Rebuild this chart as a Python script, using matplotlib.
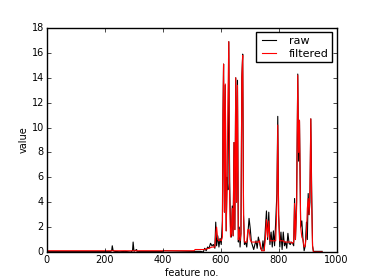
import matplotlib
matplotlib.use("Agg")
import matplotlib.pyplot as plt

# raw signal
raw_x = [0, 220, 224, 226, 229, 235, 250, 270, 290, 296, 298, 301, 310, 312, 320,
         400, 402, 500, 530, 540, 545, 550, 555, 560, 565, 570, 575, 580, 583, 586,
         590, 594, 598, 602, 606, 608, 610, 613, 616, 619, 622, 625, 628, 631, 634,
         637, 640, 643, 646, 649, 652, 655, 658, 661, 664, 667, 670, 673, 676, 679,
         682, 686, 690, 694, 698, 702, 706, 710, 714, 718, 722, 726, 730, 734, 738,
         742, 746, 750, 754, 758, 762, 766, 770, 774, 778, 782, 786, 790, 794, 797,
         800, 804, 808, 812, 816, 820, 824, 828, 832, 836, 840, 844, 848, 852, 855,
         858, 862, 866, 869, 872, 876, 880, 884, 888, 892, 896, 899, 902, 905, 908,
         911, 914, 917, 920, 925, 950]
raw_y = [0.05, 0.05, 0.1, 0.5, 0.1, 0.05, 0.02, 0.05, 0.0, 0.1, 0.8, 0.05, 0.2, 0.0, 0.05,
         0.05, 0.1, 0.05, 0.05, 0.0, 0.3, 0.1, 0.4, 0.3, 0.7, 0.5, 0.6, 0.3, 2.4, 0.5,
         1.3, 0.4, 1.1, 0.6, 2.5, 11.0, 15.1, 3.2, 13.4, 1.7, 6.0, 5.0, 16.9, 5.7, 2.0,
         1.2, 3.7, 1.3, 8.8, 1.8, 14.0, 4.0, 13.8, 0.8, 2.0, 0.4, 1.5, 14.0, 15.9, 3.0,
         0.6, 0.8, 0.4, 1.5, 2.7, 1.9, 0.8, 0.5, 0.2, 0.6, 0.9, 0.3, 1.2, 0.8, 0.3,
         0.1, 0.9, 0.1, 1.8, 3.3, 1.0, 3.2, 0.6, 1.6, 0.4, 1.7, 0.5, 2.5, 4.7, 10.9,
         3.0, 0.4, 1.6, 0.2, 1.6, 0.5, 0.8, 0.3, 1.5, 0.7, 0.6, 0.8, 0.7, 0.5, 4.3,
         1.0, 4.0, 14.3, 7.3, 10.5, 2.0, 2.5, 1.0, 0.1, 0.5, 2.4, 1.0, 4.7, 3.0, 4.0,
         10.7, 5.0, 0.5, 0.05, 0.05, 0.05]

# filtered signal
filt_x = [0, 508, 512, 545, 550, 560, 570, 575, 580, 583, 586, 590, 594, 598, 602,
          606, 608, 610, 613, 616, 619, 622, 625, 628, 631, 634, 637, 640, 643, 646,
          649, 652, 655, 658, 661, 664, 667, 670, 673, 676, 679, 682, 686, 690, 694,
          698, 702, 706, 710, 730, 734, 738, 742, 750, 754, 758, 762, 766, 770, 790,
          794, 797, 800, 804, 808, 816, 820, 840, 848, 852, 855, 858, 862, 866, 869,
          872, 876, 880, 884, 888, 892, 896, 899, 902, 905, 908, 911, 914, 917, 920, 950]
filt_y = [0.1, 0.1, 0.2, 0.2, 0.25, 0.3, 0.4, 0.4, 0.4, 1.5, 2.0, 1.0, 0.9, 1.0, 0.9,
          1.2, 11.0, 15.1, 3.2, 13.5, 1.7, 5.0, 12.0, 16.9, 4.5, 1.2, 1.5, 3.5, 1.3, 8.8,
          1.8, 14.0, 4.0, 13.4, 1.0, 1.8, 0.9, 1.5, 14.0, 15.8, 3.0, 0.8, 0.8, 0.8, 1.8,
          1.8, 1.0, 0.8, 0.8, 0.8, 0.9, 0.4, 0.1, 0.1, 1.0, 2.6, 1.2, 2.5, 0.9, 0.9,
          3.8, 10.2, 3.0, 0.9, 0.9, 0.9, 0.8, 0.8, 0.7, 0.8, 3.9, 1.0, 3.5, 14.2, 8.0,
          10.6, 2.0, 1.2, 1.0, 0.4, 0.5, 1.5, 3.5, 4.3, 3.0, 5.0, 10.7, 4.0, 0.5, 0.0, 0.0]

plt.style.use("classic")
plt.rcParams["font.size"] = 7

fig = plt.figure(figsize=(3.74, 2.8), dpi=100)
ax = fig.add_subplot(111)
ax.plot(raw_x, raw_y, color="k", lw=0.8, label="raw")
ax.plot(filt_x, filt_y, color="r", lw=0.8, label="filtered")
ax.set_xlim(0, 1000)
ax.set_ylim(0, 18)
ax.set_xlabel("feature no.", labelpad=2)
ax.set_ylabel("value", labelpad=2)
ax.tick_params(labelsize=7, length=3, pad=2)
ax.legend(loc="upper right", fontsize=8, handlelength=1.8, handletextpad=0.9,
          borderpad=0.3, labelspacing=0.3, borderaxespad=0.4)
fig.savefig("out.png", dpi=100)
